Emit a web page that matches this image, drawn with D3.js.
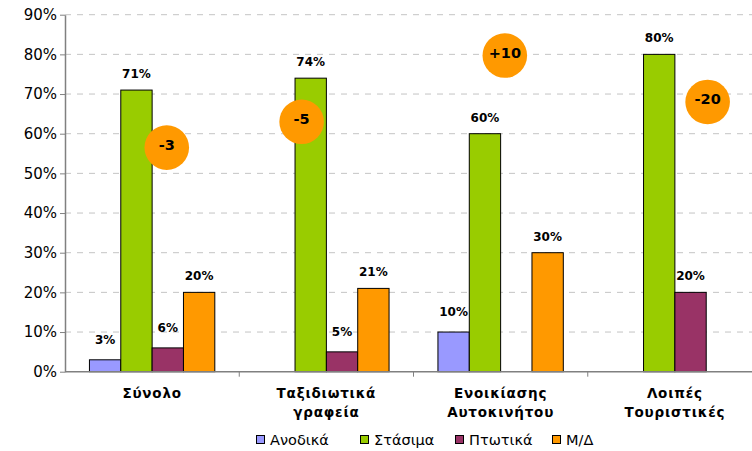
<!DOCTYPE html>
<html>
<head>
<meta charset="utf-8">
<script src="https://cdn.jsdelivr.net/npm/d3@7"></script>
<style>
  html, body { margin: 0; padding: 0; background: #fff; }
  svg { display: block; font-family: "DejaVu Sans", Verdana, sans-serif; }
</style>
</head>
<body>
<svg id="chart" width="752" height="451"></svg>
<script>
// Categories (each entry holds the label lines)
const categories = [
  ["Σύνολο"],
  ["Ταξιδιωτικά", "γραφεία"],
  ["Ενοικίασης", "Αυτοκινήτου"],
  ["Λοιπές", "Τουριστικές"]
];
const seriesNames = ["Ανοδικά", "Στάσιμα", "Πτωτικά", "Μ/Δ"];
const anodika  = [3, null, 10, null];
const stasima  = [71, 74, 60, 80];
const ptotika  = [6, 5, null, 20];
const md       = [20, 21, 30, null];
// Balance (ups minus downs) shown in the round badges
const balance  = ["-3", "-5", "+10", "-20"];
const yTicks   = [0, 10, 20, 30, 40, 50, 60, 70, 80, 90];

const seriesValues = [anodika, stasima, ptotika, md];
const colors = ["#9999ff", "#99cc00", "#993366", "#ff9900"];

const svg = d3.select("#chart");
const plotLeft = 65, plotRight = 762, plotTop = 14.7, plotBottom = 371.7;

const catKeys = categories.map(c => c.join(" "));
const x0 = d3.scaleBand().domain(catKeys).range([plotLeft, plotRight]).padding(0);
const x1 = d3.scaleBand().domain(seriesNames).range([0, x0.bandwidth()])
  .paddingInner(0).paddingOuter(0.78);
const y = d3.scaleLinear().domain([0, 90]).range([plotBottom, plotTop]);

// Horizontal dashed gridlines
svg.append("g").selectAll("line")
  .data(yTicks.filter(t => t > 0))
  .join("line")
  .attr("x1", plotLeft).attr("x2", plotRight)
  .attr("y1", d => y(d)).attr("y2", d => y(d))
  .attr("stroke", "#c4c4c4").attr("stroke-width", 1)
  .attr("stroke-dasharray", "6,6");

// Y axis
const yAxis = d3.axisLeft(y).tickValues(yTicks).tickFormat(d => d + "%").tickSize(5).tickSizeOuter(0);
const gy = svg.append("g").attr("transform", `translate(${plotLeft},0)`).call(yAxis);
gy.select(".domain").attr("stroke", "#808080").attr("stroke-width", 1.5);
gy.selectAll(".tick line").attr("stroke", "#808080");
gy.selectAll(".tick text").attr("font-size", 15).attr("fill", "#000")
  .attr("font-family", "DejaVu Sans, sans-serif").attr("x", -8);

// Bars
const bars = [];
categories.forEach((c, ci) => {
  seriesNames.forEach((s, si) => {
    const v = seriesValues[si][ci];
    if (v != null) bars.push({ cat: catKeys[ci], s, si, v });
  });
});
const gBars = svg.append("g");
gBars.selectAll("rect").data(bars).join("rect")
  .attr("x", d => x0(d.cat) + x1(d.s))
  .attr("y", d => y(d.v))
  .attr("width", x1.bandwidth())
  .attr("height", d => y(0) - y(d.v))
  .attr("fill", d => colors[d.si])
  .attr("stroke", "#000").attr("stroke-width", 1);

// Value labels
gBars.selectAll("text").data(bars).join("text")
  .attr("x", d => x0(d.cat) + x1(d.s) + x1.bandwidth() / 2)
  .attr("y", d => y(d.v) - (d.v < 12 ? 16 : 12))
  .attr("text-anchor", "middle")
  .attr("font-size", 12).attr("font-weight", "bold").attr("fill", "#000")
  .text(d => d.v + "%");

// X axis baseline with category separators
const gx = svg.append("g");
gx.append("line").attr("x1", plotLeft).attr("x2", plotRight).attr("y1", plotBottom).attr("y2", plotBottom)
  .attr("stroke", "#808080").attr("stroke-width", 1.5);
gx.selectAll("line.sep").data(catKeys.slice(1)).join("line")
  .attr("class", "sep")
  .attr("x1", d => x0(d)).attr("x2", d => x0(d))
  .attr("y1", plotBottom).attr("y2", plotBottom + 5)
  .attr("stroke", "#808080");

// Category labels
const catText = gx.selectAll("text.cat").data(categories).join("text")
  .attr("class", "cat")
  .attr("text-anchor", "middle")
  .attr("font-size", 13.5).attr("font-weight", "bold").attr("letter-spacing", 0.8)
  .attr("fill", "#000");
catText.each(function(lines, i) {
  const cx = x0(catKeys[i]) + x0.bandwidth() / 2;
  d3.select(this).selectAll("tspan").data(lines).join("tspan")
    .attr("x", cx)
    .attr("y", (d, j) => 398 + j * 19)
    .text(d => d);
});

// Round badges with the balance figure
const badgePlacement = [
  { dx: 0.084, v: 56.5 },
  { dx: -0.142, v: 63 },
  { dx: 0.024, v: 79.7 },
  { dx: 0.188, v: 68 }
];
const gBadge = svg.append("g");
balance.forEach((b, i) => {
  const p = badgePlacement[i];
  const cx = x0(catKeys[i]) + x0.bandwidth() / 2 + p.dx * x0.bandwidth();
  const cy = y(p.v);
  gBadge.append("circle").attr("cx", cx).attr("cy", cy).attr("r", 22.3).attr("fill", "#ff9900");
  gBadge.append("text").attr("x", cx).attr("y", cy - 2).attr("text-anchor", "middle")
    .attr("dominant-baseline", "middle")
    .attr("font-size", 14.5).attr("font-weight", "bold").attr("fill", "#000")
    .text(b);
});

// Legend
const legendX = [256, 360, 455, 552];
const gLeg = svg.append("g");
seriesNames.forEach((s, i) => {
  gLeg.append("rect").attr("x", legendX[i] + 0.5).attr("y", 435.5).attr("width", 8).attr("height", 8)
    .attr("fill", colors[i]).attr("stroke", "#000").attr("stroke-width", 1);
  gLeg.append("text").attr("x", legendX[i] + 14).attr("y", 445)
    .attr("font-size", 14.5).attr("fill", "#000").text(s);
});
</script>
</body>
</html>
